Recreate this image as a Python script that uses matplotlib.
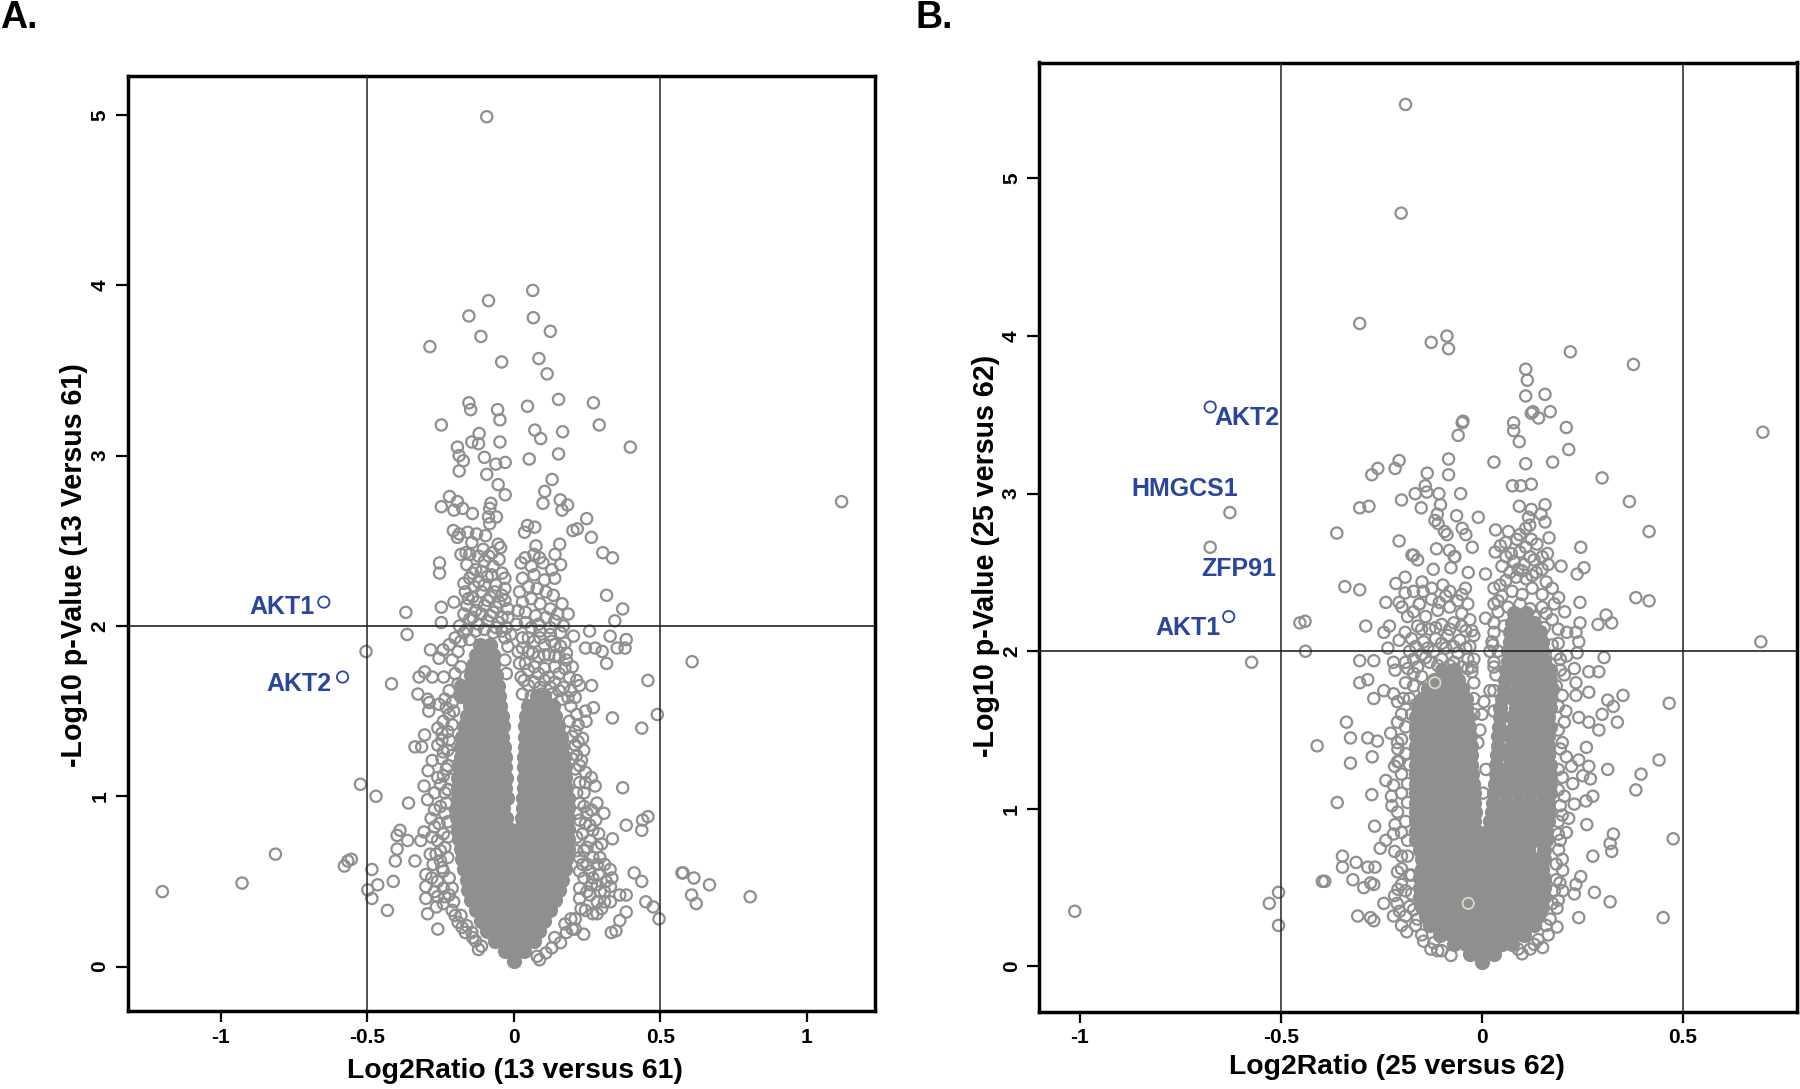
import numpy as np
import matplotlib
matplotlib.use('Agg')
import matplotlib.pyplot as plt

plt.rcParams['font.family'] = ['Liberation Sans', 'DejaVu Sans']

# panel A : single points
a_points = [(-.092,4.99),(.065,3.97),(-.086,3.91),(-.153,3.82),(.067,3.81),(.125,3.73),(-.112,3.70),(-.286,3.64),
(.086,3.57),(-.041,3.55),(.114,3.48),(.153,3.33),(.272,3.31),(-.153,3.31),(-.147,3.27),(.047,3.29),(-.055,3.27),
(-.047,3.21),(-.247,3.18),(.292,3.18),(.072,3.15),(.167,3.14),(-.118,3.13),(.092,3.10),(-.143,3.08),(-.12,3.07),
(-.047,3.08),(-.192,3.05),(.398,3.05),(-.186,3.0),(.153,3.01),(-.10,2.99),(.053,2.98),(-.172,2.97),(-.029,2.96),
(-.061,2.95),(-.186,2.91),(-.092,2.89),(.131,2.86),(-.053,2.83),(.106,2.79),(-.029,2.77),(-.219,2.76),(1.119,2.73),
(-.192,2.73),(-.078,2.72),(.1,2.72),(.159,2.74),(.184,2.71),(-.247,2.70),(-.174,2.69),(-.082,2.69),(.165,2.68),
(-.204,2.68),(-.141,2.66),(-.086,2.64),(-.059,2.64),(.249,2.63),(-.082,2.60),(.047,2.59),(.072,2.58),(-.206,2.56),
(.217,2.57),(.202,2.56),(.037,2.55),(-.186,2.54),(-.157,2.55),(-.127,2.54),(-.192,2.52),(-.096,2.53),(.265,2.52),
(-.053,2.48),(-.143,2.49),(.157,2.48),(-.045,2.46),(.076,2.47),(-.104,2.45),(.304,2.43),(-.163,2.43),(-.18,2.42),
(-.073,2.43),(.141,2.42),(.069,2.42),(.039,2.40),(.337,2.40),(.088,2.40),(-.253,2.37),(-.253,2.31),(.317,2.18),
(-.368,2.08),(.372,2.10),(-.247,2.11),(-.204,2.14),(.186,2.07),(.345,2.03),(-.247,2.02),(.259,1.97),(-.364,1.95),
(.329,1.94),(.384,1.92),(.204,1.94),(.245,1.87),(.278,1.87),(.302,1.85),(.353,1.87),(.38,1.87),(-.504,1.85),
(-.284,1.86),(-.241,1.86),(-.255,1.81),(.609,1.79),(.317,1.78),(-.304,1.73),(-.323,1.70),(-.278,1.70),(-.239,1.70),
(-.417,1.66),(.458,1.68),(.225,1.65),(.266,1.65),(-.327,1.60),(-.294,1.57),(-.288,1.55),(-.255,1.54),(-.29,1.50),
(.272,1.52),(.245,1.50),(.49,1.48),(.337,1.46),(.247,1.44),(.437,1.40),(-.259,1.40),(-.304,1.36),(.21,1.38),
(-.337,1.29),(-.314,1.29),(-.259,1.30),(.239,1.27),(.231,1.21),(-.278,1.21),(-.292,1.15),(.245,1.14),(.265,1.11),
(-.259,1.11),(-.523,1.07),(-.306,1.06),(.372,1.05),(.278,1.06),(-.47,1.0),(-.294,.98),(-.359,.96),(.284,.96),
(.458,.88),(.308,.90),(.44,.86),(-.282,.87),(.384,.83),(.437,.80),(-.388,.80),(-.306,.79),(-.398,.77),(.337,.75),
(-.362,.74),(-.317,.74),(-.398,.69),(.284,.70),(-.813,.66),(-.554,.63),(-.566,.62),(-.578,.59),(-.337,.62),(-.404,.62),
(-.484,.57),(.294,.64),(.329,.57),(.411,.55),(.574,.55),(.578,.55),(.615,.52),(.437,.50),(-.411,.50),(.668,.48),
(-.464,.48),(-.927,.49),(-1.199,.44),(-.498,.45),(.607,.42),(.807,.41),(.623,.37),(-.484,.40),(.451,.38),(.476,.35),
(.496,.28),(.384,.42),(.362,.42),(-.3,.40),(-.264,.35),(-.431,.33),(-.294,.31),(.384,.32),(.362,.27),(.349,.21),
(.333,.20),(-.259,.22),(.239,.19),(-.176,.23),(-.143,.20),(.088,.04)]

# panel A : rings of the busy parts above and around the solid V
a_busy = [(-.16,2.36),(-.13,2.33),(-.1,2.38),(-.07,2.35),(-.04,2.31),(-.15,2.28),(-.12,2.26),(-.09,2.29),(-.06,2.24),
(-.03,2.22),(-.165,2.2),(-.14,2.17),(-.11,2.2),(-.08,2.17),(-.05,2.14),(-.02,2.1),(-.16,2.12),(-.13,2.09),(-.1,2.12),
(-.07,2.08),(-.04,2.05),(-.15,2.04),(-.12,2.01),(-.09,2.03),(-.06,1.99),(-.025,1.99),(-.185,2.0),(-.17,1.96),(-.2,1.93),
(-.22,1.89),(-.19,1.85),(-.21,1.8),(-.18,1.76),(-.2,1.72),(-.19,1.66),(-.22,1.62),(-.21,1.55),(-.235,1.57),(-.22,1.48),
(-.24,1.44),(-.225,1.38),(-.245,1.33),(-.225,1.27),(-.245,1.22),(-.23,1.16),(-.25,1.07),(-.235,1.02),(-.25,.94),(-.235,.9),
(-.255,.84),(-.24,.78),(-.26,.74),(-.235,.7),(-.265,.66),(-.25,.62),(-.275,.6),(-.24,.56),(-.3,.54),(-.28,.52),(-.26,.5),
(-.3,.47),(-.27,.44),(-.24,.46),(-.22,.42),(-.24,.37),(-.21,.33),(-.18,.3),(-.19,.26),(-.16,.24),(-.13,.15),(-.11,.12),
(.025,2.37),(.06,2.35),(.1,2.37),(.13,2.33),(.16,2.36),(.03,2.28),(.07,2.3),(.105,2.27),(.14,2.28),(.02,2.2),(.05,2.23),
(.08,2.22),(.11,2.2),(.135,2.18),(.03,2.14),(.06,2.16),(.09,2.13),(.125,2.1),(.165,2.13),(.04,2.08),(.075,2.06),(.11,2.05),
(.14,2.03),(.17,2.0),(.06,1.99),(.09,1.97),(.125,1.95),(.16,1.96),(.03,1.93),(.07,1.91),(.105,1.89),(.14,1.89),(.175,1.9),
(.05,1.85),(.085,1.82),(.12,1.83),(.155,1.82),(.18,1.84),(.04,1.78),(.07,1.76),(.105,1.75),(.14,1.76),(.175,1.75),(.19,1.7),
(.035,1.68),(.07,1.67),(.105,1.68),(.14,1.67),(.17,1.64),(.195,1.62),(.03,1.6),(.06,1.59),(.095,1.6),(.13,1.6),(.165,1.57),
(.195,1.53),(.215,1.48),(.19,1.44),(.2,1.35),(.22,1.32),(.215,1.24),(.21,1.16),(.225,1.08),(.24,1.02),(.225,.96),(.25,.9),
(.225,.86),(.26,.83),(.235,.78),(.26,.74),(.29,.78),(.24,.68),(.27,.64),(.235,.6),(.26,.56),(.29,.54),(.315,.5),(.24,.52),
(.265,.48),(.295,.44),(.33,.47),(.26,.42),(.31,.38),(.3,.34),(.27,.31),(.23,.34),(.21,.28),(.2,.22),(.18,.2),(.16,.14),(.13,.11),
# denser second pass
(-.15,2.42),(-.12,2.41),(-.085,2.41),(-.05,2.39),(-.14,2.31),(-.11,2.32),(-.075,2.3),(-.03,2.28),(-.17,2.25),(-.135,2.23),
(-.1,2.24),(-.065,2.2),(-.04,2.18),(-.155,2.16),(-.125,2.14),(-.09,2.15),(-.06,2.11),(-.03,2.15),(-.17,2.07),(-.14,2.05),
(-.11,2.07),(-.08,2.06),(-.05,2.02),(-.02,2.05),(-.16,1.98),(-.13,1.97),(-.1,1.98),(-.07,1.96),(-.04,1.97),(-.03,1.93),
(-.15,1.92),(-.18,1.91),(-.02,1.88),(-.03,1.8),(-.025,1.72),(-.01,1.95),(.01,2.01),(.015,2.09),(.015,1.85),
(.04,2.02),(.085,2.01),(.125,1.99),(.15,2.07),(.05,1.93),(.09,1.93),(.13,1.91),(.16,1.88),(.03,1.87),(.065,1.84),(.105,1.83),
(.14,1.82),(.05,1.74),(.085,1.72),(.12,1.7),(.155,1.72),(.05,1.65),(.09,1.64),(.125,1.64),(.155,1.62),(.185,1.58),(.18,1.8),
(.2,1.76),(.215,1.68),(.21,1.58),(.025,1.7),(.02,1.78),
(-.23,1.52),(-.205,1.5),(-.21,1.42),(-.245,1.37),(-.22,1.33),(-.21,1.24),(-.24,1.26),(-.225,1.18),(-.215,1.1),(-.24,1.12),
(-.225,1.04),(-.27,1.02),(-.23,.96),(-.27,.92),(-.225,.85),(-.27,.82),(-.225,.76),(-.28,.76),(-.25,.68),(-.225,.64),(-.285,.66),
(-.245,.58),(-.22,.52),(-.21,.46),(-.235,.41),(-.26,.41),(-.205,.38),(-.2,.3),(-.165,.2),(-.14,.17),(-.12,.1),
(.22,1.42),(.21,1.3),(.235,1.34),(.2,1.22),(.225,1.18),(.245,1.08),(.215,1.02),(.24,.94),(.265,.92),(.215,.9),(.245,.84),
(.28,.86),(.215,.76),(.27,.8),(.25,.7),(.215,.68),(.3,.72),(.225,.64),(.25,.6),(.285,.6),(.31,.6),(.225,.56),(.27,.52),
(.225,.46),(.25,.44),(.285,.48),(.31,.44),(.335,.52),(.225,.4),(.285,.38),(.33,.38),(.245,.33),(.285,.31),(.21,.22),(.195,.28),
(.175,.25),(.14,.17),(.11,.08),(.08,.06)]

core_a_y = [.03,.09,.15,.21,.27,.33,.39,.45,.51,.57,.63,.69,.75,.81,.87,.93,.99,1.05,1.11,1.17,1.23,1.29,1.35,1.41,1.47,1.53,1.59,1.65,1.71,1.77,1.83,1.89]
core_a_x = [[0],[-.03,.005,.035],[-.065,-.03,.005,.04,.07],[-.09,-.055,-.02,.015,.05,.085],
[-.11,-.075,-.04,-.005,.03,.065,.105],[-.13,-.095,-.06,-.025,.01,.045,.08,.125],
[-.145,-.11,-.075,-.04,-.005,.03,.065,.1,.14],[-.155,-.125,-.09,-.055,-.02,.015,.05,.085,.12,.155],
[-.16,-.14,-.105,-.07,-.035,0,.035,.07,.105,.14,.165],[-.17,-.15,-.12,-.085,-.05,-.015,.02,.055,.09,.125,.16,.175],
[-.175,-.14,-.105,-.07,-.035,0,.035,.07,.105,.14,.18],[-.18,-.15,-.115,-.08,-.045,-.01,.025,.06,.095,.13,.165,.185],
[-.185,-.155,-.12,-.085,-.05,-.015,.02,.055,.09,.125,.16,.185],[-.19,-.155,-.12,-.085,-.05,-.015,.02,.055,.09,.125,.16,.185],
[-.195,-.16,-.125,-.09,-.055,-.025,.03,.06,.095,.13,.165,.185],[-.195,-.175,-.14,-.105,-.07,-.035,.032,.065,.1,.135,.17,.185],
[-.19,-.155,-.12,-.085,-.05,-.024,.032,.06,.095,.13,.165,.185],[-.19,-.17,-.135,-.1,-.065,-.03,.034,.07,.105,.14,.18],
[-.19,-.155,-.12,-.085,-.05,-.026,.034,.06,.095,.13,.165,.175],[-.185,-.165,-.13,-.095,-.06,-.028,.036,.07,.105,.14,.175],
[-.18,-.15,-.115,-.08,-.045,-.03,.036,.065,.1,.135,.17],[-.18,-.16,-.125,-.09,-.055,-.032,.038,.07,.105,.14,.165],
[-.175,-.145,-.11,-.075,-.04,.038,.065,.1,.135,.16],[-.17,-.135,-.1,-.065,-.036,.04,.075,.11,.15],
[-.16,-.125,-.09,-.055,-.04,.042,.07,.105,.14],[-.15,-.115,-.08,-.048,.05,.085,.115,.135],
[-.18,-.145,-.11,-.075,-.05,.08,.105],[-.18,-.145,-.11,-.075,-.055],[-.145,-.11,-.075,-.06],[-.14,-.105,-.07],[-.13,-.1,-.07],[-.115,-.08]]

# panel B : single points
b_points = [(-.19,5.47),(-.201,4.78),(-.304,4.08),(-.087,4.00),(-.126,3.96),(-.083,3.92),(.22,3.90),(.377,3.82),(.109,3.79),
(.113,3.72),(.157,3.63),(.109,3.62),(.17,3.52),(.127,3.52),(.123,3.51),(.141,3.48),(-.047,3.46),(-.049,3.45),(.079,3.45),
(.21,3.42),(.079,3.40),(-.059,3.37),(.699,3.39),(.093,3.33),(.216,3.28),(-.083,3.22),(-.206,3.21),(.03,3.20),(.109,3.19),
(.176,3.20),(-.259,3.16),(-.216,3.16),(-.274,3.12),(-.136,3.13),(-.083,3.12),(.299,3.10),(.076,3.05),(.097,3.05),(.123,3.06),
(-.141,3.05),(-.166,3.0),(-.137,3.01),(-.107,3.0),(-.053,3.0),(-.103,2.93),(-.2,2.96),(-.281,2.92),(-.304,2.91),(-.151,2.91),
(.093,2.92),(.157,2.93),(.367,2.95),(.123,2.90),(-.627,2.88),(.147,2.87),(-.111,2.87),(-.063,2.86),(-.009,2.85),(-.117,2.83),
(.116,2.85),(.157,2.82),(-.109,2.81),(-.049,2.78),(.034,2.77),(.066,2.76),(-.093,2.76),(-.361,2.75),(.416,2.76),(-.04,2.74),
(-.087,2.74),(.109,2.78),(.119,2.80),(.094,2.74),(.167,2.72),(.087,2.71),(.123,2.71),(-.206,2.70),(.059,2.69),(.137,2.68),
(.046,2.67),(-.024,2.66),(-.113,2.65),(-.676,2.66),(.246,2.66),(.109,2.66),(.163,2.62),(.033,2.63),(-.081,2.64),(-.174,2.61),
(-.069,2.60),(.073,2.62),(.094,2.63),(-.17,2.61),(-.16,2.58),(-.067,2.60),(.197,2.54),(.254,2.53),(.237,2.49),(.009,2.49),
(-.034,2.5),(-.121,2.52),(-.077,2.53),(-.191,2.47),(-.214,2.43),(-.149,2.44),(-.341,2.41),(-.304,2.39),(-.191,2.37),(-.146,2.38),
(-.097,2.42),(-.041,2.40),(.191,2.34),(.383,2.34),(.416,2.32),(.244,2.31),(-.239,2.31),(-.206,2.31),(-.199,2.28),(-.156,2.30),
(-.106,2.31),(.009,2.21),(.206,2.25),(.309,2.23),(.323,2.18),(.289,2.17),(.244,2.18),(-.44,2.19),(-.453,2.18),(-.289,2.16),
(-.23,2.16),(-.244,2.12),(-.191,2.12),(.211,2.12),(.234,2.12),(.694,2.06),(-.206,2.07),(.241,2.06),(-.439,2.0),(-.234,2.02),
(.027,2.04),(.237,1.99),(.211,1.97),(.304,1.96),(-.304,1.94),(-.269,1.94),(-.573,1.93),(-.22,1.93),(-.184,1.89),(.266,1.87),
(.291,1.87),(-.216,1.88),(.23,1.89),(-.284,1.82),(-.304,1.80),(.234,1.80),(-.244,1.75),(-.22,1.73),(.266,1.74),(.234,1.72),
(.351,1.72),(.313,1.69),(-.269,1.70),(.327,1.65),(.466,1.67),(.299,1.60),(.209,1.62),(.241,1.58),(.266,1.55),(-.337,1.55),
(.337,1.55),(.291,1.50),(-.227,1.48),(-.284,1.45),(-.327,1.45),(-.26,1.43),(-.41,1.40),(.26,1.39),(-.209,1.38),(-.273,1.33),
(.441,1.31),(-.327,1.29),(.241,1.31),(.223,1.27),(.266,1.27),(-.206,1.30),(.313,1.25),(.396,1.22),(-.217,1.27),(.251,1.21),
(.27,1.19),(-.239,1.18),(-.22,1.15),(.226,1.16),(.383,1.12),(-.274,1.09),(.276,1.08),(.259,1.05),(-.36,1.04),(-.224,1.02),
(.23,1.03),(.216,.94),(.261,.90),(-.267,.89),(-.216,.90),(.327,.84),(.476,.81),(-.239,.80),(.319,.78),(-.253,.75),(.191,.74),
(-.217,.73),(.323,.73),(.276,.70),(-.347,.70),(-.313,.66),(-.347,.63),(-.284,.63),(-.266,.63),(.201,.61),(.246,.57),(-.391,.54),
(-.397,.54),(-.321,.55),(-.181,.58),(.194,.53),(.234,.52),(-.269,.52),(-.277,.53),(-.294,.50),(-.506,.47),(.28,.47),(.201,.48),
(.23,.46),(-.209,.49),(-.217,.45),(-.529,.40),(-.244,.40),(.319,.41),(-.211,.40),(-.22,.32),(-.309,.32),(-.277,.31),(-.269,.29),
(-.506,.26),(-1.013,.35),(.241,.31),(.451,.31),(.187,.37),(.187,.25),(-.187,.22),(-.127,.11),(.151,.12),(.12,.11),(-.077,.07)]

# panel B : rings of the busy parts above and around the solid V
b_busy = [(-.17,2.25),(-.14,2.22),(-.11,2.26),(-.08,2.28),(-.05,2.24),(-.03,2.2),(-.16,2.16),(-.13,2.14),(-.1,2.17),(-.07,2.18),
(-.04,2.13),(-.02,2.1),(-.175,2.08),(-.145,2.06),(-.115,2.08),(-.085,2.1),(-.055,2.07),(-.03,2.03),(-.18,2.0),(-.15,1.98),
(-.12,2.0),(-.09,2.02),(-.06,1.99),(-.035,1.95),(-.19,1.93),(-.16,1.9),(-.13,1.93),(-.1,1.95),(-.07,1.93),(-.035,1.89),
(-.02,1.8),(-.02,1.7),(.0,1.6),(-.005,1.5),(.02,1.75),(.005,1.68),
(.03,2.12),(.055,2.16),(.08,2.2),(.105,2.17),(.13,2.22),(.155,2.15),(.175,2.2),(.04,2.25),(.065,2.28),(.095,2.3),(.12,2.27),
(.15,2.28),(.05,2.35),(.075,2.38),(.1,2.36),(.125,2.4),(.15,2.36),(.06,2.45),(.085,2.47),(.11,2.46),(.135,2.5),(.16,2.44),
(.05,2.54),(.08,2.57),(.105,2.55),(.13,2.58),(.04,2.0),(.03,1.93),(.035,1.85),
(-.19,1.8),(-.195,1.7),(-.2,1.6),(-.19,1.52),(-.2,1.44),(-.19,1.35),(-.2,1.22),(-.2,1.1),(-.21,.98),(-.2,.85),(-.2,.7),(-.2,.62),
(-.19,.48),(-.18,.38),(-.19,.32),(-.165,.26),(-.15,.2),(-.12,.15),(-.1,.1),(.19,2.05),(.195,1.95),(.205,1.85),(.2,1.72),(.205,1.55),
(.2,1.42),(.21,1.33),(.2,1.2),(.205,1.08),(.2,.96),(.21,.85),(.195,.8),(.2,.68),(.185,.55),(.19,.42),(.17,.3),(.165,.2),(.14,.17),(.1,.08),
# denser second pass
(-.185,2.22),(-.155,2.3),(-.125,2.33),(-.09,2.35),(-.06,2.32),(-.035,2.3),(-.17,2.38),(-.125,2.4),(-.08,2.38),(-.05,2.36),
(-.15,2.14),(-.115,2.15),(-.08,2.14),(-.05,2.16),(-.025,2.13),(-.165,2.03),(-.135,2.02),(-.1,2.05),(-.07,2.03),(-.04,2.02),
(-.17,1.95),(-.14,1.96),(-.11,1.91),(-.08,1.91),(-.05,1.9),(-.02,1.95),(-.17,1.86),(-.15,1.84),(-.025,1.87),(-.17,1.78),
(-.145,1.76),(-.18,1.7),(-.165,1.66),(-.025,1.9),(-.175,1.6),(-.02,1.6),(-.01,1.42),(.01,1.25),(.003,1.1),
(.025,2.06),(.03,2.18),(.04,2.32),(.045,2.42),(.07,2.5),(.1,2.51),(.125,2.48),(.15,2.52),(.165,2.55),(.175,2.4),(.18,2.3),
(.16,2.24),(.19,2.14),(.175,2.04),(.185,1.98),(.195,1.88),(.185,1.78),(.19,1.65),(.19,1.5),(.195,1.38),(.19,1.25),(.19,1.12),
(.195,1.02),(.19,.92),(.19,.84),(.185,.65),(.18,.48),(.175,.4),(.16,.26),(.13,.14),(.09,.11),(.03,2.3),(.03,2.4),(.06,2.6),
(.09,2.52),(.12,2.6),(.15,2.6),(.02,2.0),(.03,1.9),(.03,1.75),(.03,1.62),
(-.18,1.28),(-.185,1.16),(-.185,1.04),(-.19,.92),(-.185,.8),(-.185,.7),(-.175,.58),(-.175,.46),(-.17,.36),(-.16,.3),(-.145,.16),
(-.11,.1),(-.21,.6),(-.2,.52),(-.205,.35),(-.2,.26),(-.225,1.08),(-.22,.84),(-.21,1.3),(-.21,1.42),(-.21,1.55),(-.21,1.68)]

core_b_y = [.03,.08,.14,.2,.26,.32,.38,.44,.5,.56,.62,.68,.74,.8,.86,.92,.98,1.04,1.1,1.16,1.22,1.28,1.34,1.4,1.46,1.52,1.58,1.64,1.7,1.76,1.82,1.88,1.94,2.0,2.06,2.12,2.18,2.24]
core_b_x = [[0],[-.03,0,.03],[-.07,-.04,-.01,.02,.05,.075],[-.105,-.075,-.045,-.015,.015,.045,.075,.105],
[-.13,-.1,-.07,-.04,-.01,.02,.05,.08,.11,.13],[-.14,-.115,-.085,-.055,-.025,.005,.035,.065,.095,.125,.14],
[-.15,-.125,-.095,-.065,-.035,-.005,.025,.055,.085,.115,.15],[-.155,-.14,-.11,-.08,-.05,-.02,.01,.04,.07,.1,.13,.155],
[-.155,-.125,-.095,-.065,-.035,-.005,.025,.055,.085,.115,.145,.155],[-.155,-.14,-.11,-.08,-.05,-.02,.01,.04,.07,.1,.13,.155],
[-.15,-.125,-.095,-.065,-.035,-.005,.025,.055,.085,.115,.15],[-.15,-.14,-.11,-.08,-.05,-.02,.01,.04,.07,.1,.13,.155],
[-.155,-.125,-.095,-.065,-.035,-.005,.025,.055,.085,.115,.155],[-.165,-.14,-.11,-.08,-.05,-.02,.01,.04,.07,.1,.13,.16],
[-.165,-.135,-.105,-.075,-.045,-.015,.015,.045,.075,.105,.135,.16],[-.165,-.14,-.11,-.08,-.05,-.02,.02,.05,.08,.11,.14,.165],
[-.165,-.135,-.105,-.075,-.045,-.018,.025,.055,.085,.115,.145,.165],[-.165,-.14,-.11,-.08,-.05,-.02,.028,.06,.09,.12,.15,.165],
[-.165,-.135,-.105,-.075,-.045,-.02,.03,.06,.09,.12,.15,.17],[-.165,-.14,-.11,-.08,-.05,-.022,.032,.065,.095,.125,.155,.17],
[-.165,-.135,-.105,-.075,-.045,-.024,.035,.06,.09,.12,.15,.17],[-.165,-.14,-.11,-.08,-.05,-.026,.036,.07,.1,.13,.16,.17],
[-.165,-.135,-.105,-.075,-.045,-.027,.038,.065,.095,.125,.155,.165],[-.165,-.14,-.11,-.08,-.05,-.028,.04,.075,.105,.135,.165],
[-.165,-.135,-.105,-.075,-.045,-.03,.04,.07,.1,.13,.16,.165],[-.165,-.14,-.11,-.08,-.05,-.032,.042,.08,.11,.14,.17],
[-.165,-.135,-.105,-.075,-.05,-.034,.044,.075,.105,.135,.165],[-.16,-.13,-.1,-.07,-.04,.046,.085,.115,.145,.17],
[-.15,-.12,-.09,-.06,-.04,.05,.08,.11,.14,.17],[-.135,-.105,-.075,-.05,.055,.09,.12,.15,.175],
[-.12,-.09,-.06,.058,.085,.115,.145,.17],[-.1,-.07,.06,.09,.12,.15,.17],[.065,.095,.125,.155],[.065,.09,.12,.15],
[.07,.1,.13,.15],[.07,.095,.125,.145],[.075,.105,.13],[.08,.11]]

a_blue = [(-.648,2.14),(-.584,1.70)]
b_blue = [(-.676,3.55),(-.63,2.22)]
b_pale = [(-.117,1.80),(-.034,.40)]

a_labels = [('AKT1',-.791,2.11),('AKT2',-.733,1.66)]
b_labels = [('AKT2',-.585,3.48),('HMGCS1',-.739,3.03),('ZFP91',-.604,2.52),('AKT1',-.731,2.15)]

a_xticks = [-1,-.5,0,.5,1]
b_xticks = [-1,-.5,0,.5]
a_xticklabels = ['-1','-0.5','0','0.5','1']
b_xticklabels = ['-1','-0.5','0','0.5']
a_yticks = [0,1,2,3,4,5]
b_yticks = [0,1,2,3,4,5]

GRAY = '#8f8f8f'
BLUE = '#2a459c'
W, H = 1800, 1089


def volcano(box, xlim, ylim, points, busy, core_y, core_x, blue, labels, xticks, xticklabels, yticks, xlabel, ylabel, xlab_pos, ylab_pos):
    l, t, r, b = box
    ax = fig.add_axes([l/W, 1-b/H, (r-l)/W, (b-t)/H])
    ax.set_xlim(xlim)
    ax.set_ylim(ylim)

    # the solid V, discs so that it closes up
    cx = [x for row in core_x for x in row]
    cy = [y for y, row in zip(core_y, core_x) for x in row]
    ax.scatter(cx, cy, s=120, color=GRAY, linewidths=0, zorder=2)

    pts = np.array(points + busy).T
    ax.scatter(pts[0], pts[1], s=66, facecolors='none', edgecolors=GRAY, linewidths=1.6, zorder=2)

    bl = np.array(blue).T
    ax.scatter(bl[0], bl[1], s=66, facecolors='none', edgecolors=BLUE, linewidths=1.3, zorder=3)

    ax.axvline(-.5, color='#222222', lw=1.1, zorder=4)
    ax.axvline(.5, color='#222222', lw=1.1, zorder=4)
    ax.axhline(2, color='#222222', lw=1.2, zorder=4)

    for name, x, y in labels:
        ax.text(x, y, name, color=BLUE, fontsize=18, fontweight='bold', ha='center', va='center', zorder=5)

    ax.set_xticks(xticks)
    ax.set_xticklabels(xticklabels, fontsize=15, fontweight='bold')
    ax.set_yticks(yticks)
    ax.set_yticklabels([str(v) for v in yticks], fontsize=15, fontweight='bold', rotation=90, va='center')
    ax.tick_params(axis='x', length=8, width=1.6, pad=4)
    ax.tick_params(axis='y', length=9, width=1.6, pad=4)
    for s in ax.spines.values():
        s.set_linewidth(2.5)
    fig.text(xlab_pos[0]/W, 1-xlab_pos[1]/H, xlabel, fontsize=20.4, fontweight='bold', ha='center', va='center')
    fig.text(ylab_pos[0]/W, 1-ylab_pos[1]/H, ylabel, fontsize=20.6, fontweight='bold', rotation=90, ha='center', va='center')
    return ax


fig = plt.figure(figsize=(18, 10.89), dpi=100)

volcano((127.5, 75.5, 875, 1011), (-1.318, 1.233), (-.261, 5.232), a_points, a_busy, core_a_y, core_a_x, a_blue, a_labels,
        a_xticks, a_xticklabels, a_yticks, 'Log2Ratio (13 versus 61)', '-Log10 p-Value (13 Versus 61)', (515, 1071), (74, 565))
ax_b = volcano((1039, 62.5, 1797, 1011.5), (-1.102, .784), (-.286, 5.736), b_points, b_busy, core_b_y, core_b_x, b_blue, b_labels,
        b_xticks, b_xticklabels, b_yticks, 'Log2Ratio (25 versus 62)', '-Log10 p-Value (25 versus 62)', (1397, 1067), (986, 556))

pale = np.array(b_pale).T
ax_b.scatter(pale[0], pale[1], s=66, facecolors='none', edgecolors='#d8d8c8', linewidths=1.3, zorder=3)

fig.text(0/W, 1-18/H, 'A.', fontsize=27, fontweight='bold', ha='left', va='center')
fig.text(915/W, 1-18/H, 'B.', fontsize=27, fontweight='bold', ha='left', va='center')

fig.savefig('out.png', dpi=100)
